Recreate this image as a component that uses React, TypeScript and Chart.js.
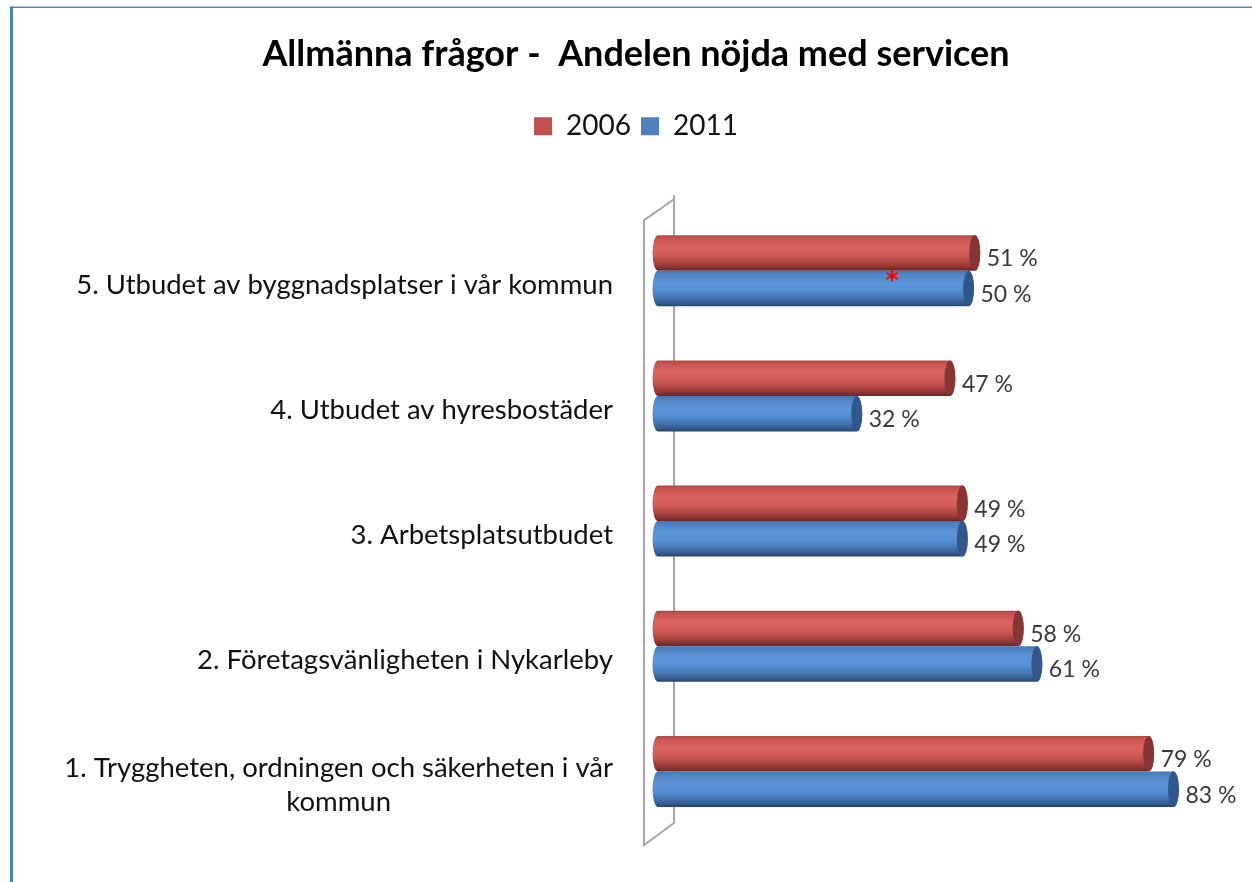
import { useEffect, useRef } from "react";
import { Chart, registerables } from "chart.js";

Chart.register(...registerables);

const titleText = "Allmänna frågor -  Andelen nöjda med servicen";
const categoryLines: string[][] = [
  ["5. Utbudet av byggnadsplatser i vår kommun"],
  ["4. Utbudet av hyresbostäder"],
  ["3. Arbetsplatsutbudet"],
  ["2. Företagsvänligheten i Nykarleby"],
  ["1. Tryggheten, ordningen och säkerheten i vår", "kommun"],
];
const categories = categoryLines.map((l) => l.join(" "));
const seriesNames = ["2006", "2011"];
const values2006 = [51, 47, 49, 58, 79];
const values2011 = [50, 32, 49, 61, 83];
const seriesColors = ["#c0504d", "#4f81bd"];
const asteriskNote = { categoryIndex: 0, value: 37.7, text: "*" };

const FONT = "Lato, 'Open Sans', sans-serif";

const gradStops: Record<number, [number, string][]> = {
  0: [
    [0, "#b24845"],
    [0.12, "#c95754"],
    [0.32, "#dc6360"],
    [0.55, "#d05a57"],
    [0.75, "#b04643"],
    [0.9, "#8a3432"],
    [1, "#672624"],
  ],
  1: [
    [0, "#4676b2"],
    [0.12, "#5286c6"],
    [0.35, "#5c96da"],
    [0.55, "#5590d3"],
    [0.75, "#4577b5"],
    [0.9, "#355d90"],
    [1, "#26446c"],
  ],
};
const capColors = ["#873533", "#33578a"];

const framePlugin = {
  id: "framePlugin",
  beforeDraw(chart: any) {
    const ctx = chart.ctx;
    ctx.save();
    ctx.fillStyle = "#ffffff";
    ctx.fillRect(0, 0, chart.width, chart.height);
    ctx.fillStyle = "#4f81bd";
    ctx.fillRect(10, 6.5, chart.width - 10, 1.5);
    ctx.fillRect(10, 6.5, 3, chart.height);
    const { left, top, bottom } = chart.chartArea;
    ctx.strokeStyle = "#a6a6a6";
    ctx.lineWidth = 2;
    ctx.beginPath();
    ctx.moveTo(left + 16, top - 13);
    ctx.lineTo(left + 16, bottom - 11);
    ctx.lineTo(left - 14, bottom + 11);
    ctx.lineTo(left - 14, top + 12);
    ctx.lineTo(left + 16, top - 9);
    ctx.stroke();
    ctx.restore();
  },
};

const cylinderPlugin = {
  id: "cylinderPlugin",
  beforeDatasetDraw() {
    return false;
  },
  afterDatasetsDraw(chart: any) {
    const ctx = chart.ctx;
    ctx.save();
    chart.data.datasets.forEach((ds: any, di: number) => {
      const meta = chart.getDatasetMeta(di);
      meta.data.forEach((bar: any, i: number) => {
        const x1 = bar.x;
        const x0 = bar.base;
        const yc = bar.y;
        const h = bar.height;
        const t = yc - h / 2;
        const b = yc + h / 2;
        const rx = 5.5;
        const ry = h / 2;
        const g = ctx.createLinearGradient(0, t, 0, b);
        gradStops[di].forEach(([o, c]) => g.addColorStop(o, c));
        ctx.fillStyle = g;
        ctx.beginPath();
        ctx.moveTo(x0, t);
        ctx.lineTo(x1, t);
        ctx.ellipse(x1, yc, rx, ry, 0, -Math.PI / 2, Math.PI / 2);
        ctx.lineTo(x0, b);
        ctx.ellipse(x0, yc, rx, ry, 0, Math.PI / 2, Math.PI * 1.5);
        ctx.closePath();
        ctx.fill();
        ctx.fillStyle = capColors[di];
        ctx.beginPath();
        ctx.ellipse(x1, yc, rx, ry, 0, 0, Math.PI * 2);
        ctx.fill();
        ctx.fillStyle = "#3a3a3a";
        ctx.font = `23px ${FONT}`;
        ctx.textAlign = "left";
        ctx.textBaseline = "middle";
        ctx.fillText(`${ds.data[i]} %`, x1 + 12, yc + 6);
      });
    });
    const xs = chart.scales.x;
    const ys = chart.scales.y;
    ctx.fillStyle = "#ff0000";
    ctx.font = `bold 25px 'DejaVu Sans', sans-serif`;
    ctx.textAlign = "center";
    ctx.textBaseline = "middle";
    ctx.fillText(
      asteriskNote.text,
      xs.getPixelForValue(asteriskNote.value),
      ys.getPixelForValue(asteriskNote.categoryIndex) + 11
    );
    ctx.restore();
  },
};

const axisLabelPlugin = {
  id: "axisLabelPlugin",
  afterDraw(chart: any) {
    const ctx = chart.ctx;
    const ys = chart.scales.y;
    ctx.save();
    ctx.font = `27.5px ${FONT}`;
    ctx.fillStyle = "#111111";
    ctx.textAlign = "center";
    ctx.textBaseline = "middle";
    const right = chart.chartArea.left - 45;
    const lh = 34;
    categoryLines.forEach((lines, i) => {
      const yc = ys.getPixelForValue(i) + 14;
      const w = Math.max(...lines.map((l) => ctx.measureText(l).width));
      const cx = right - w / 2;
      lines.forEach((l, k) => {
        ctx.fillText(l, cx, yc + (k - (lines.length - 1) / 2) * lh);
      });
    });
    ctx.restore();
  },
};

export default function App() {
  const canvasRef = useRef<HTMLCanvasElement | null>(null);

  useEffect(() => {
    if (!canvasRef.current) return;
    Chart.defaults.font.family = FONT;
    const chart = new Chart(canvasRef.current, {
      type: "bar",
      data: {
        labels: categories,
        datasets: [
          {
            label: seriesNames[0],
            data: values2006,
            backgroundColor: seriesColors[0],
            borderWidth: 0,
            barPercentage: 1,
            categoryPercentage: 0.567,
          },
          {
            label: seriesNames[1],
            data: values2011,
            backgroundColor: seriesColors[1],
            borderWidth: 0,
            barPercentage: 1,
            categoryPercentage: 0.567,
          },
        ],
      },
      options: {
        indexAxis: "y",
        responsive: false,
        animation: false,
        layout: { padding: { left: 24, right: 4, top: 0, bottom: 48 } },
        plugins: {
          title: {
            display: true,
            text: titleText,
            color: "#000000",
            font: { family: FONT, size: 36, weight: "bold" },
            padding: { top: 33, bottom: 26 },
          },
          legend: {
            display: true,
            position: "top",
            labels: {
              boxWidth: 18,
              boxHeight: 18,
              padding: 10,
              color: "#111111",
              font: { family: FONT, size: 28 },
            },
          },
          tooltip: { enabled: false },
        },
        scales: {
          x: {
            position: "top",
            min: 0,
            max: 95,
            ticks: { display: false },
            grid: { display: false },
            border: { display: false },
            afterFit(s: any) {
              s.height = 58;
            },
          },
          y: {
            ticks: { display: false },
            grid: { display: false },
            border: { display: false },
            afterFit(s: any) {
              s.width = 634;
            },
          },
        },
      },
      plugins: [framePlugin, cylinderPlugin, axisLabelPlugin],
    } as any);
    return () => chart.destroy();
  }, []);

  return (
    <div style={{ position: "fixed", left: 0, top: 0, width: 1252, height: 882, background: "#fff" }}>
      <canvas ref={canvasRef} width={1252} height={882} style={{ display: "block" }} />
    </div>
  );
}
